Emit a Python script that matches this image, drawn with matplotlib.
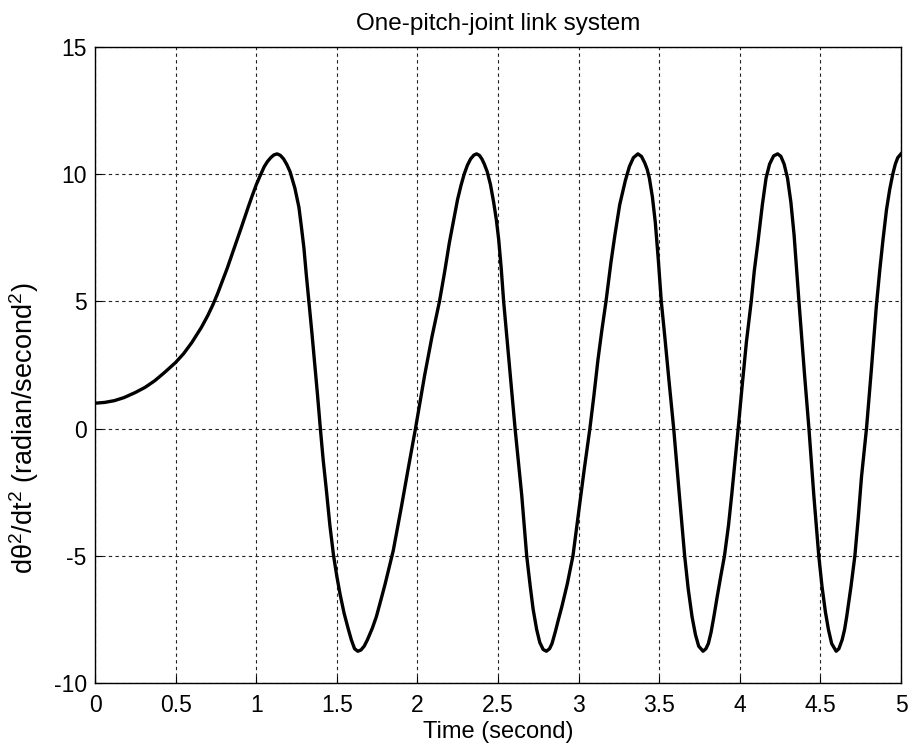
import numpy as np
import matplotlib
matplotlib.use('Agg')
import matplotlib.pyplot as plt

plt.rcParams['font.family'] = ['Liberation Sans', 'DejaVu Sans']
plt.rcParams['mathtext.fontset'] = 'custom'
plt.rcParams['mathtext.rm'] = 'Liberation Sans'
plt.rcParams['mathtext.it'] = 'Liberation Sans'
plt.rcParams['mathtext.default'] = 'regular'
plt.rcParams['axes.unicode_minus'] = False

# valeurs (temps en s, acceleration en rad/s^2)
temps = [0.0, 0.06, 0.12, 0.18, 0.25, 0.31, 0.37, 0.43, 0.5, 0.55, 0.6, 0.66,
         0.7, 0.73, 0.76, 0.79, 0.82, 0.85, 0.88, 0.91, 0.95, 0.975, 1.0, 1.025,
         1.05, 1.07, 1.09, 1.11, 1.13, 1.15, 1.17, 1.19, 1.21, 1.24, 1.265,
         1.28, 1.296, 1.31, 1.327, 1.345, 1.361, 1.38, 1.398, 1.415, 1.435,
         1.457, 1.48, 1.5, 1.52, 1.545, 1.57, 1.59, 1.61, 1.63, 1.65, 1.67,
         1.69, 1.72, 1.745, 1.775, 1.8, 1.85, 1.9, 1.945, 1.988, 2.045, 2.09,
         2.137, 2.17, 2.198, 2.225, 2.249, 2.27, 2.29, 2.31, 2.33, 2.35, 2.367,
         2.385, 2.40, 2.415, 2.433, 2.453, 2.473, 2.49, 2.504, 2.52, 2.535,
         2.576, 2.606, 2.647, 2.678, 2.7, 2.718, 2.74, 2.759, 2.78, 2.80, 2.82,
         2.835, 2.855, 2.875, 2.896, 2.93, 2.965, 3.0, 3.035, 3.07, 3.095,
         3.12, 3.145, 3.17, 3.2, 3.225, 3.255, 3.29, 3.315, 3.34, 3.368, 3.39,
         3.41, 3.425, 3.439, 3.458, 3.476, 3.495, 3.513, 3.535, 3.559, 3.59,
         3.625, 3.658, 3.68, 3.704, 3.725, 3.745, 3.772, 3.79, 3.805, 3.822,
         3.839, 3.86, 3.882, 3.905, 3.93, 3.95, 3.97, 3.99, 4.015, 4.041,
         4.071, 4.09, 4.112, 4.14, 4.163, 4.185, 4.21, 4.235, 4.255, 4.275,
         4.296, 4.317, 4.337, 4.352, 4.367, 4.385, 4.402, 4.429, 4.459, 4.49,
         4.51, 4.531, 4.55, 4.57, 4.598, 4.615, 4.635, 4.65, 4.663, 4.69,
         4.714, 4.735, 4.755, 4.786, 4.816, 4.847, 4.868, 4.888, 4.91, 4.93,
         4.949, 4.965, 4.98, 5.0]
acc = [1.0, 1.03, 1.1, 1.22, 1.42, 1.62, 1.88, 2.2, 2.6, 2.95, 3.38, 3.98,
       4.45, 4.85, 5.3, 5.8, 6.3, 6.85, 7.4, 7.95, 8.7, 9.15, 9.58, 9.95,
       10.3, 10.5, 10.65, 10.76, 10.8, 10.74, 10.6, 10.38, 10.1, 9.45, 8.7,
       7.95, 7.1, 6.1, 5.0, 3.8, 2.7, 1.35, 0.0, -1.2, -2.4,
       -3.8, -5.0, -5.8, -6.5, -7.25, -7.85, -8.3, -8.65, -8.75, -8.7, -8.55,
       -8.3, -7.85, -7.4, -6.7, -6.1, -4.8, -3.1, -1.5, 0.0, 2.1, 3.6,
       5.0, 6.2, 7.3, 8.2, 9.0, 9.55, 10.0, 10.35, 10.6, 10.75, 10.8,
       10.74, 10.6, 10.4, 10.1, 9.6, 8.9, 8.2, 7.45, 6.3, 5.0,
       2.1, 0.0, -2.6, -5.0, -6.2, -7.1, -7.9, -8.4, -8.68, -8.75, -8.65,
       -8.45, -8.0, -7.5, -7.0, -6.1, -5.0, -3.3, -1.6, 0.0, 1.3,
       2.7, 3.9, 5.0, 6.5, 7.6, 8.8, 9.75, 10.3, 10.65, 10.8, 10.7,
       10.45, 10.2, 9.85, 9.1, 8.1, 6.6, 5.0, 3.6, 2.0, 0.0,
       -2.6, -5.0, -6.3, -7.4, -8.1, -8.55, -8.75, -8.65, -8.45, -8.0,
       -7.4, -6.6, -5.8, -5.0, -3.8, -2.6, -1.3, 0.0, 1.7, 3.4,
       5.0, 6.2, 7.3, 8.8, 9.85, 10.4, 10.72, 10.8, 10.7, 10.4,
       9.85, 8.9, 7.6, 6.3, 5.0, 3.5, 2.1, 0.0, -2.6, -5.0,
       -6.2, -7.2, -7.9, -8.45, -8.75, -8.65, -8.3, -7.9, -7.4, -6.2,
       -5.0, -3.5, -1.9, 0.0, 2.3, 4.8, 6.2, 7.4, 8.6, 9.4,
       10.0, 10.4, 10.65, 10.8]

fig = plt.figure(figsize=(9.11, 7.51), dpi=100)
ax = fig.add_axes([0.1043, 0.0905, 0.8847, 0.8469])
ax.plot(temps, acc, color='k', linewidth=2.4, solid_joinstyle='round', zorder=3)

ax.set_xlim(0, 5)
ax.set_ylim(-10, 15)
ax.set_xticks(np.arange(0, 5.01, 0.5))
ax.set_xticklabels(['0', '0.5', '1', '1.5', '2', '2.5', '3', '3.5', '4', '4.5', '5'])
ax.set_yticks([-10, -5, 0, 5, 10, 15])
ax.grid(True, color='#222222', linestyle=(0, (3, 3)), linewidth=0.8)
ax.tick_params(direction='in', length=5, width=0.8, labelsize=16.5, pad=6)
ax.tick_params(axis='x', pad=8)
for s in ax.spines.values():
    s.set_linewidth(1.0)

ax.set_title('One-pitch-joint link system', fontsize=17.5, pad=12)
ax.set_xlabel('Time (second)', fontsize=17, labelpad=3)
fig.text(24 / 911, 1 - 428 / 751, r'd$\theta^2$/dt$^2$ (radian/second$^2$)',
         rotation=90, ha='center', va='center', fontsize=19.5)

plt.savefig('out.png', dpi=100)
